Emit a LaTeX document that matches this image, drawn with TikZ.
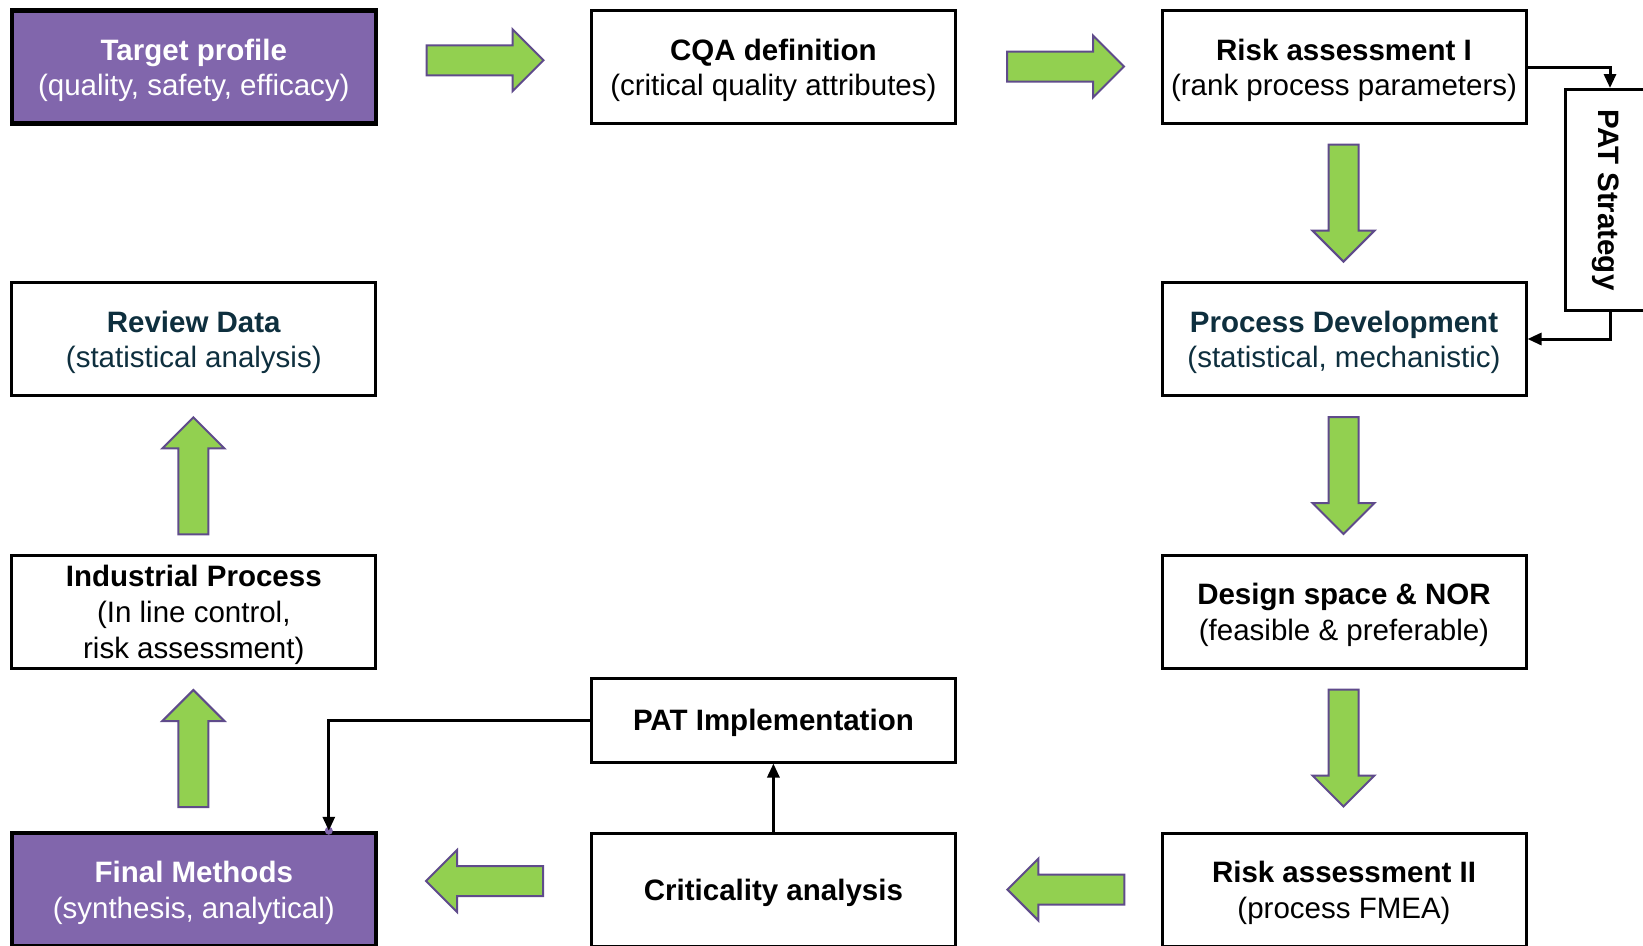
\documentclass[tikz,border=0pt]{standalone}
\usepackage{fontspec}
\setmainfont{Liberation Sans}
\usetikzlibrary{arrows.meta}

\definecolor{boxpurple}{HTML}{8166AC}
\definecolor{arrowgreen}{HTML}{92D050}
\definecolor{arrowedge}{HTML}{5F4B8B}
\definecolor{darkteal}{HTML}{0E2F3E}

% bold heading line with a tall strut, so the text block sits slightly lower
\newcommand{\stagetitle}[1]{\textbf{\rule{0pt}{0.95em}#1}}

\tikzset{
  framebox/.style={draw=black, line width=3pt, fill=white, inner sep=0pt,
    align=center, font=\fontsize{29.5}{35.8}\selectfont},
  stage/.style={framebox, minimum width=364pt, minimum height=113pt},
  keystage/.style={stage, line width=4.5pt, fill=boxpurple, text=white},
  link/.style={line width=3pt, -{Triangle[length=14pt,width=12pt]}},
  blockarrow/.pic={
    \path[fill=arrowgreen, draw=arrowedge, line width=2pt, line join=miter]
      (0,-15) -- (86,-15) -- (86,-31) -- (117,0) -- (86,31) -- (86,15) -- (0,15) -- cycle;
  }
}

\begin{document}
\begin{tikzpicture}[x=1pt,y=-1pt]
  \useasboundingbox (0,0) rectangle (1643,945);

  % process stages
  \node[keystage] (target) at (193.8,67) {\stagetitle{Target profile}\\(quality, safety, efficacy)};
  \node[stage] (cqa) at (773.4,67) {\stagetitle{CQA definition}\\(critical quality attributes)};
  \node[stage] (risk1) at (1344,67) {\stagetitle{Risk assessment I}\\(rank process parameters)};
  \node[stage, text=darkteal] (review) at (193.8,339) {\stagetitle{Review Data}\\(statistical analysis)};
  \node[stage, text=darkteal] (procdev) at (1344,339) {\stagetitle{Process Development}\\(statistical, mechanistic)};
  \node[stage] (industrial) at (193.8,611.5) {\stagetitle{Industrial Process}\\(In line control,\\risk assessment)};
  \node[stage] (design) at (1344,611.5) {\stagetitle{Design space \& NOR}\\(feasible \& preferable)};
  \node[stage, minimum height=84pt] (patimpl) at (773.4,720) {\stagetitle{PAT Implementation}};
  \node[keystage] (final) at (193.8,889.5) {\stagetitle{Final Methods}\\(synthesis, analytical)};
  \node[stage] (crit) at (773.4,889.5) {\stagetitle{Criticality analysis}};
  \node[stage] (risk2) at (1344,889.5) {\stagetitle{Risk assessment II}\\(process FMEA)};
  \node[framebox, rotate=-90, minimum width=221pt, minimum height=82pt] (pat) at (1606,200) {\textbf{PAT Strategy}};

  % main flow
  \pic at (426.5,60.3) {blockarrow};
  \pic at (1007,66.5) {blockarrow};
  \pic[rotate=-90] at (1343.5,144.6) {blockarrow};
  \pic[rotate=-90] at (1343.5,417) {blockarrow};
  \pic[rotate=-90] at (1343.5,689.5) {blockarrow};
  \pic[rotate=180] at (1124.4,889.5) {blockarrow};
  \pic[rotate=180] at (543,881) {blockarrow};
  \pic[rotate=90] at (193.4,807) {blockarrow};
  \pic[rotate=90] at (193.4,534.4) {blockarrow};

  % PAT links
  \draw[link] (risk1.east) -| ([xshift=4pt]pat.west);
  \draw[link] ([xshift=4pt]pat.east) |- (procdev.east);
  \draw[link] (crit.north) -- (patimpl.south);
  \fill[boxpurple] ([xshift=135pt]final.north) circle (4pt);
  \draw[link] (patimpl.west) -| ([xshift=135pt]final.north);
\end{tikzpicture}
\end{document}
